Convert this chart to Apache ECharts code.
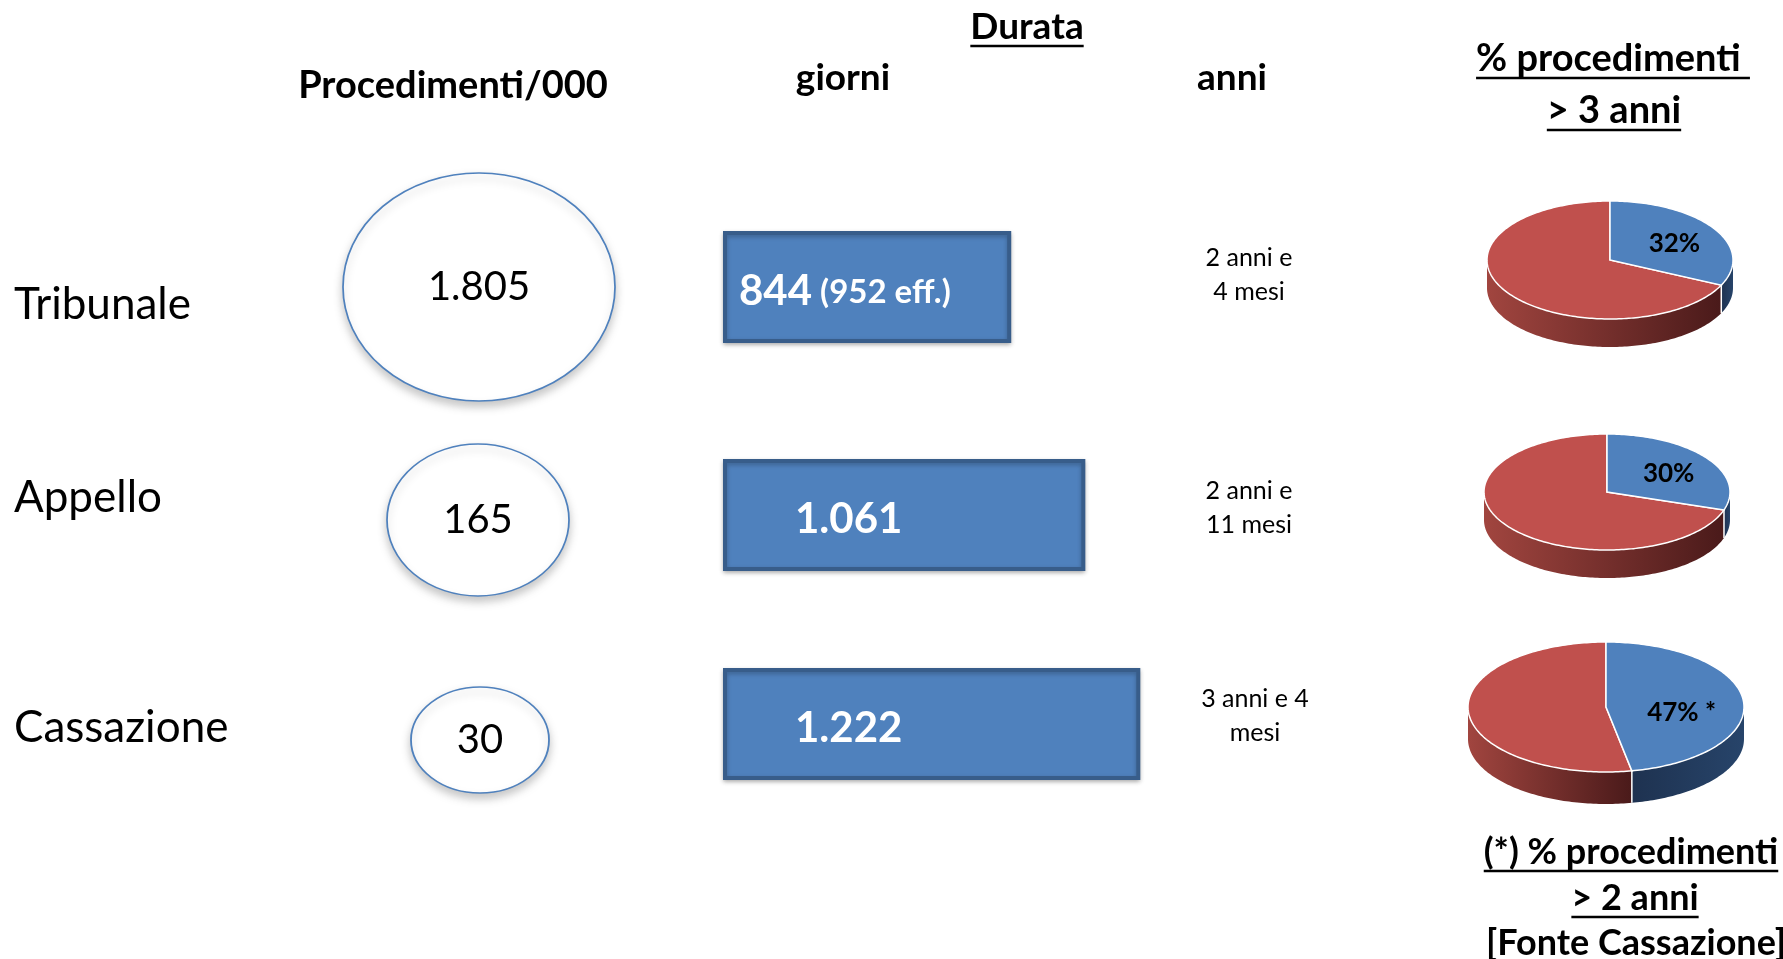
<!DOCTYPE html>
<html>
<head>
<meta charset="utf-8">
<script src="https://cdn.jsdelivr.net/npm/echarts@6/dist/echarts.min.js"></script>
<style>
  html, body { margin: 0; padding: 0; background: #fff; }
  #chart { width: 1783px; height: 959px; }
</style>
</head>
<body>
<div id="chart"></div>
<script>
// data
const rows = ['Tribunale', 'Appello', 'Cassazione']
const procedimenti = [1805, 165, 30]        // procedimenti / 000
const giorni = [844, 1061, 1222]             // durata in giorni
const giorniEff = [952, null, null]          // durata effettiva
const anni = ['2 anni e\n4 mesi', '2 anni e\n11 mesi', '3 anni e 4\nmesi']
const pctOltre = [32, 30, 47]                // % procedimenti > 3 anni (Cassazione > 2 anni)
const pctNote = ['', '', ' *']

// layout
const FONT = 'Lato'
const rowLabelY = [305, 498, 728]
const circles = [
  { x: 479, y: 287, w: 272, h: 228 },
  { x: 478, y: 520, w: 182, h: 152 },
  { x: 480, y: 740, w: 138, h: 106 }
]
const barTop = [229, 457, 666]
const barH = 116
const barLabelGap = [16, 72, 72]
const anniPos = [[1249, 275], [1249, 508], [1255, 716]]
const pies = [
  { cx: 1610, cy: 260, rx: 123, ry: 59, d: 28, f: 0.62, dy: 3 },
  { cx: 1607, cy: 492, rx: 123, ry: 58, d: 28, f: 0.62, dy: 3 },
  { cx: 1606, cy: 707, rx: 138, ry: 65, d: 32, f: 0.55, dy: 9 }
]

const fmt = v => String(v).replace(/\B(?=(\d{3})+(?!\d))/g, '.')

const measure = document.createElement('canvas').getContext('2d')
const textWidth = (t, size, weight) => {
  measure.font = weight + ' ' + size + 'px ' + FONT
  return measure.measureText(t).width
}

const label = (text, x, y, size, weight, align) => ({
  type: 'text', x: x, y: y, silent: true,
  style: {
    text: text, fontFamily: FONT, fontSize: size, fontWeight: weight,
    fill: '#000', align: align || 'center', verticalAlign: 'middle', lineHeight: 34
  }
})

const underlined = (text, x, y, size) => {
  const w = textWidth(text, size, 'bold')
  return [
    label(text, x, y, size, 'bold'),
    {
      type: 'line', silent: true,
      shape: { x1: x - w / 2, y1: y + 19, x2: x + w / 2, y2: y + 19 },
      style: { stroke: '#000', lineWidth: 2.5 }
    }
  ]
}

const graphic = [
  label('Procedimenti/000', 453, 86, 38, 'bold'),
  ...underlined('Durata', 1027, 27, 37),
  label('giorni', 843, 78, 37, 'bold'),
  label('anni', 1232, 78, 37, 'bold'),
  ...underlined('% procedimenti ', 1613, 59, 38),
  ...underlined('> 3 anni', 1614, 111, 38),
  ...underlined('(*) % procedimenti', 1631, 852, 36),
  ...underlined('> 2 anni', 1635, 898, 36),
  label('[Fonte Cassazione]', 1636, 943, 36, 'bold')
]
rows.forEach((r, i) => {
  graphic.push(label(r, 14, rowLabelY[i], 44, 'normal', 'left'))
  graphic.push(label(anni[i], anniPos[i][0], anniPos[i][1], 25, 'normal'))
})

const grid = []
const xAxis = []
const yAxis = []
const series = []

rows.forEach((r, i) => {
  // bar grid
  grid.push({ left: 723, width: 683, top: barTop[i] + 2, height: barH - 4 })
  xAxis.push({ type: 'value', gridIndex: grid.length - 1, min: 0, max: 2000, show: false })
  yAxis.push({ type: 'category', gridIndex: grid.length - 1, data: [r], show: false })
  series.push({
    type: 'bar',
    xAxisIndex: grid.length - 1,
    yAxisIndex: grid.length - 1,
    data: [giorni[i]],
    barWidth: '100%',
    itemStyle: {
      color: '#4f81bd',
      borderColor: '#385d8a',
      borderWidth: 4,
      shadowColor: 'rgba(0,0,0,0.25)',
      shadowBlur: 4,
      shadowOffsetY: 2
    },
    label: {
      show: true,
      position: 'insideLeft',
      distance: barLabelGap[i],
      formatter: p => '{b|' + fmt(p.value) + '}' +
        (giorniEff[i] ? '{s| (' + fmt(giorniEff[i]) + ' eff.)}' : ''),
      rich: {
        b: { fontFamily: FONT, fontSize: 42, fontWeight: 'bold', color: '#fff', verticalAlign: 'bottom', lineHeight: 50 },
        s: { fontFamily: FONT, fontSize: 33, fontWeight: 'bold', color: '#fff', verticalAlign: 'bottom', lineHeight: 50, padding: [0, 0, 3, 0] }
      }
    }
  })

  // circle grid
  const c = circles[i]
  grid.push({ left: c.x - 50, top: c.y - 50, width: 100, height: 100 })
  xAxis.push({ type: 'category', gridIndex: grid.length - 1, data: ['Procedimenti/000'], show: false })
  yAxis.push({ type: 'category', gridIndex: grid.length - 1, data: [r], show: false })
  series.push({
    type: 'scatter',
    xAxisIndex: grid.length - 1,
    yAxisIndex: grid.length - 1,
    data: [[0, 0, procedimenti[i]]],
    symbol: 'circle',
    symbolSize: [c.w, c.h],
    itemStyle: {
      color: '#fff',
      opacity: 1,
      borderColor: '#4f81bd',
      borderWidth: 1.6,
      shadowColor: 'rgba(0,0,0,0.22)',
      shadowBlur: 8,
      shadowOffsetY: 5
    },
    label: {
      show: true,
      position: 'inside',
      formatter: p => fmt(p.value[2]),
      fontFamily: FONT,
      fontSize: 40,
      color: '#000'
    }
  })
})

// 3D-looking pies
series.push({
  type: 'custom',
  coordinateSystem: 'none',
  silent: true,
  data: pctOltre.map((v, i) => [i, v]),
  renderItem: function (params, api) {
    const i = params.dataIndex
    const p = api.value(1) / 100
    const L = pies[i]
    const pt = (t, dy) => [L.cx + L.rx * Math.cos(t), L.cy + L.ry * Math.sin(t) + (dy || 0)]
    const arc = (a, b, dy) => {
      const n = Math.max(2, Math.ceil(Math.abs(b - a) / 0.02))
      const out = []
      for (let k = 0; k <= n; k++) out.push(pt(a + (b - a) * k / n, dy))
      return out
    }
    const a0 = -Math.PI / 2
    const a1 = a0 + 2 * Math.PI * p
    const a2 = a0 + 2 * Math.PI
    const children = []
    const wall = (a, b, fill) => {
      const lo = Math.max(a, 0)
      const hi = Math.min(b, Math.PI)
      if (hi <= lo) return
      children.push({
        type: 'polygon',
        shape: { points: arc(lo, hi, 0).concat(arc(hi, lo, L.d)) },
        style: { fill: fill }
      })
    }
    wall(a1, a2, new echarts.graphic.LinearGradient(0, 0, 1, 0, [
      { offset: 0, color: '#a1453f' },
      { offset: 1, color: '#4a1a1a' }
    ]))
    wall(a0, a1, new echarts.graphic.LinearGradient(0, 0, 1, 0, [
      { offset: 0, color: '#1e3250' },
      { offset: 1, color: '#27446a' }
    ]))
    if (a1 > 0 && a1 < Math.PI) {
      const top = pt(a1, 0)
      children.push({
        type: 'line',
        shape: { x1: top[0], y1: top[1], x2: top[0], y2: top[1] + L.d },
        style: { stroke: '#fff', lineWidth: 1.5 }
      })
    }
    children.push({
      type: 'polygon',
      shape: { points: [[L.cx, L.cy]].concat(arc(a1, a2, 0)) },
      style: { fill: '#c0504d', stroke: '#fff', lineWidth: 1.5 }
    })
    children.push({
      type: 'polygon',
      shape: { points: [[L.cx, L.cy]].concat(arc(a0, a1, 0)) },
      style: { fill: '#4f81bd', stroke: '#fff', lineWidth: 1.5 }
    })
    const mid = (a0 + a1) / 2
    children.push({
      type: 'text',
      x: L.cx + L.rx * L.f * Math.cos(mid),
      y: L.cy + L.ry * L.f * Math.sin(mid) + L.dy,
      style: {
        text: api.value(1) + '%' + pctNote[i],
        fontFamily: FONT, fontSize: 26, fontWeight: 'bold',
        fill: '#000', align: 'center', verticalAlign: 'middle'
      }
    })
    return { type: 'group', children: children }
  }
})

const chart = echarts.init(document.getElementById('chart'))
chart.setOption({
  backgroundColor: '#fff',
  animation: false,
  grid: grid,
  xAxis: xAxis,
  yAxis: yAxis,
  series: series,
  graphic: graphic
})
</script>
</body>
</html>
